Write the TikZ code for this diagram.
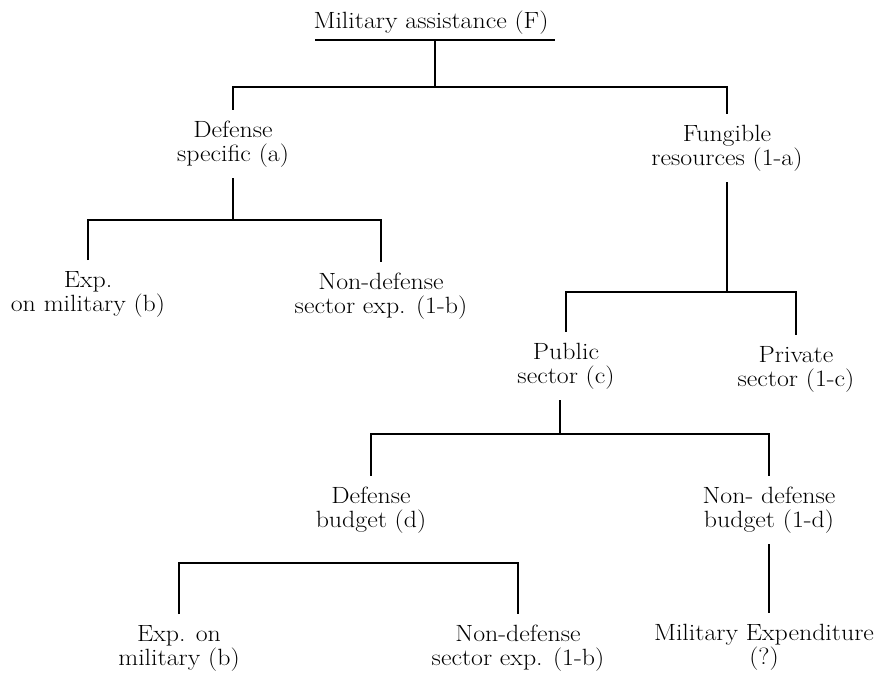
\documentclass[tikz,border=0pt]{standalone}
\usepackage{fontspec}
\setmainfont{Latin Modern Roman}[FakeStretch=1.1]
\begin{document}
\tikzset{
  lbl/.style={align=center, inner sep=0pt, outer xsep=0pt, outer ysep=11pt,
              font=\fontsize{23.5}{24}\selectfont},
  conn/.style={line width=2.8pt, line join=miter}
}
\begin{tikzpicture}[x=1pt,y=-1pt]
\useasboundingbox (0,0) rectangle (876,676);
% nodes
\node[lbl, anchor=base, outer ysep=0pt] (top) at (431,29) {Military assistance (F)};
\node[lbl] (ds)  at (233,144) {Defense\\specific (a)};
\node[lbl] (fr)  at (727,148) {Fungible\\resources (1-a)};
\node[lbl] (em1) at (88,294)  {Exp.\\on military (b)};
\node[lbl] (nd1) at (381,296) {Non-defense\\sector exp. (1-b)};
\node[lbl] (ps)  at (566,366) {Public\\sector (c)};
\node[lbl] (pv)  at (796,369) {Private\\sector (1-c)};
\node[lbl] (db)  at (371,510) {Defense\\budget (d)};
\node[lbl] (ndb) at (769,510) {Non- defense\\budget (1-d)};
\node[lbl] (em2) at (179,648) {Exp. on\\military (b)};
\node[lbl] (nd2) at (518,648) {Non-defense\\sector exp. (1-b)};
\node[lbl] (me)  at (764,647) {Military Expenditure\\(?)};
% junction coordinates
\coordinate (ulL) at (315,40);
\coordinate (ulR) at (555,40);
\coordinate (ulM) at (435,40);
\coordinate (j0) at (435,87);
\coordinate (j1) at (233,220);
\coordinate (j2) at (727,292);
\coordinate (j3) at (560,434);
\coordinate (j4) at (350,563);
% connectors
\draw[conn] (ulL) -- (ulR);
\draw[conn] (ulM) -- (j0);
\draw[conn] (ds.north) |- (j0) -| (fr.north);
\draw[conn] (ds.south) -- (j1);
\draw[conn] (em1.north) |- (j1) -| (nd1.north);
\draw[conn] (fr.south) -- (j2);
\draw[conn] (ps.north) |- (j2) -| (pv.north);
\draw[conn] (j3 |- ps.south) -- (j3);
\draw[conn] (db.north) |- (j3) -| (ndb.north);
\draw[conn] (em2.north) |- (j4) -| (nd2.north);
\draw[conn] (ndb.south) -- (ndb.south |- me.north);
\end{tikzpicture}
\end{document}
